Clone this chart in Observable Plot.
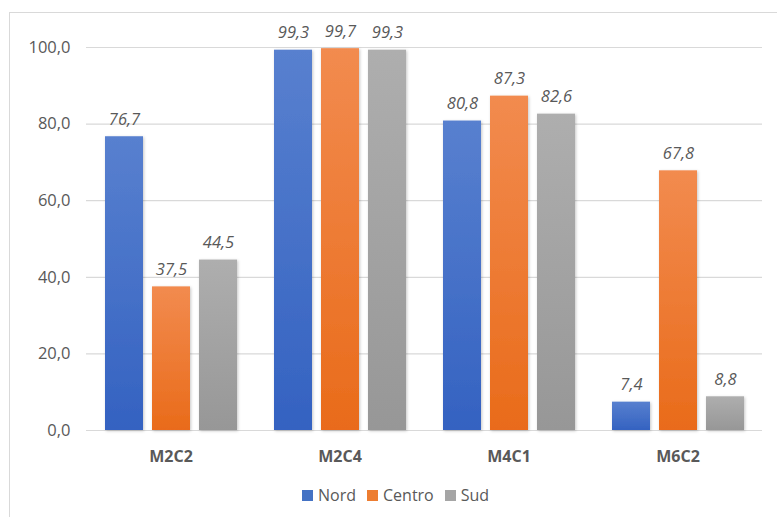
<!DOCTYPE html>
<html>
<head>
<meta charset="utf-8">
<script src="https://cdn.jsdelivr.net/npm/d3@7"></script>
<script src="https://cdn.jsdelivr.net/npm/@observablehq/plot@0.6"></script>
<style>
  html, body { margin: 0; padding: 0; background: #fff; }
  body { width: 777px; height: 517px; position: relative; overflow: hidden; font-family: "Open Sans", sans-serif; }
  #frame { position: absolute; left: 9px; top: 12px; width: 800px; height: 540px; border: 1.5px solid #d9d9d9; box-sizing: border-box; }
  #chart { position: absolute; left: 0; top: 0; }
  #legend { position: absolute; left: 302px; top: 484px; display: flex; align-items: center; gap: 11px; font-size: 16px; color: #595959; }
  .item { display: flex; align-items: center; gap: 5px; }
  .sw { width: 11px; height: 11px; display: inline-block; }
</style>
</head>
<body>
<div id="frame"></div>
<div id="chart"></div>
<div id="legend"></div>
<script>
const categories = ["M2C2", "M2C4", "M4C1", "M6C2"];
const series = ["Nord", "Centro", "Sud"];
const nord = [76.7, 99.3, 80.8, 7.4];
const centro = [37.5, 99.7, 87.3, 67.8];
const sud = [44.5, 99.3, 82.6, 8.8];
const yTicks = [0, 20, 40, 60, 80, 100];
const colors = ["#4472C4", "#ED7D31", "#A5A5A5"];
const gradients = [["#5880cf", "#3462c1"], ["#f28b4f", "#e96b1a"], ["#aeaeae", "#979797"]];

const values = [nord, centro, sud];
const data = categories.flatMap((c, i) => series.map((s, j) => ({category: c, series: s, value: values[j][i]})));
const fmt = d => d.toFixed(1).replace(".", ",");

const defsMark = () => {
  const defs = d3.create("svg:defs");
  series.forEach((s, j) => {
    const g = defs.append("linearGradient").attr("id", "g" + s).attr("x1", 0).attr("y1", 0).attr("x2", 0).attr("y2", 1);
    g.append("stop").attr("offset", "0%").attr("stop-color", gradients[j][0]);
    g.append("stop").attr("offset", "100%").attr("stop-color", gradients[j][1]);
  });
  const f = defs.append("filter").attr("id", "shadow").attr("x", "-20%").attr("y", "-20%").attr("width", "150%").attr("height", "150%");
  f.append("feDropShadow").attr("dx", 1).attr("dy", 1).attr("stdDeviation", 1.5).attr("flood-color", "#000").attr("flood-opacity", 0.22);
  return defs.node();
};

const chart = Plot.plot({
  width: 777,
  height: 475,
  marginLeft: 85,
  marginRight: 14,
  marginTop: 47,
  marginBottom: 45,
  style: {fontFamily: "'Open Sans', sans-serif", color: "#595959", background: "transparent", overflow: "visible"},
  fx: {domain: categories, padding: 0, label: null, axis: null},
  x: {domain: series, paddingInner: 0.2, paddingOuter: 0.39, axis: null},
  y: {domain: [0, 100], label: null, axis: null},
  color: {domain: series, range: series.map(s => `url(#g${s})`)},
  marks: [
    defsMark,
    Plot.ruleY(yTicks, {stroke: "#d9d9d9", strokeWidth: 1.2}),
    Plot.axisY(yTicks, {tickSize: 0, tickPadding: 16, tickFormat: fmt, fontSize: 16.5, fill: "#595959", label: null}),
    Plot.axisFx({anchor: "bottom", tickSize: 0, tickPadding: 20, fontSize: 16, fontWeight: "bold", fill: "#595959", label: null}),
    Plot.barY(data, {fx: "category", x: "series", y: "value", fill: "series"}),
    Plot.text(data, {fx: "category", x: "series", y: "value", text: d => fmt(d.value), dy: -12, lineAnchor: "bottom", fontStyle: "italic", fontSize: 16.5, fill: "#595959"})
  ]
});
chart.querySelectorAll("g[aria-label='bar'] rect").forEach(r => r.setAttribute("filter", "url(#shadow)"));
document.getElementById("chart").appendChild(chart);

const legend = document.getElementById("legend");
series.forEach((s, j) => {
  const it = document.createElement("div");
  it.className = "item";
  const sw = document.createElement("span");
  sw.className = "sw";
  sw.style.background = colors[j];
  const t = document.createElement("span");
  t.textContent = s;
  it.appendChild(sw);
  it.appendChild(t);
  legend.appendChild(it);
});
</script>
</body>
</html>
